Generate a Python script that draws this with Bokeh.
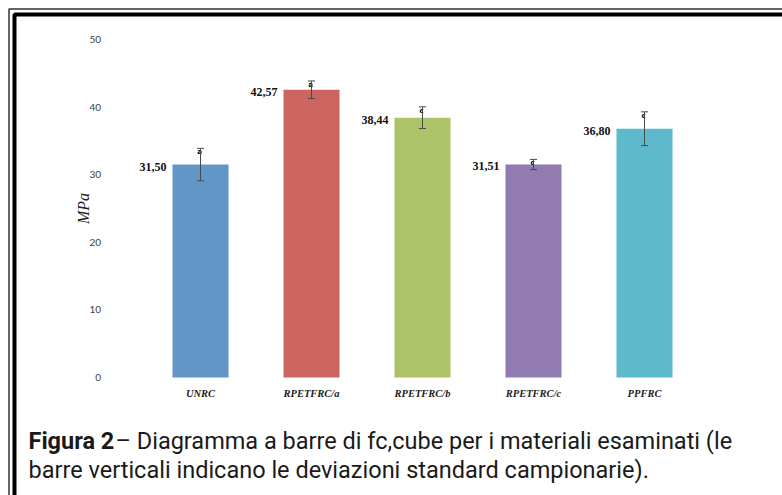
import math

from bokeh.plotting import figure
from bokeh.models import (ColumnDataSource, Range1d, Whisker, TeeHead,
                          BoxAnnotation, Label, FixedTicker)
from bokeh.core.properties import value
from bokeh.embed import file_html
from bokeh.resources import INLINE

# Compressive strength fc,cube per material (MPa) with sample standard deviations
materials = ["UNRC", "RPETFRC/a", "RPETFRC/b", "RPETFRC/c", "PPFRC"]
fc_cube = [31.50, 42.57, 38.44, 31.51, 36.80]
std_dev = [2.4, 1.3, 1.6, 0.75, 2.5]
group_letters = ["a", "a", "c", "c", "c"]
y_ticks = [0, 10, 20, 30, 40, 50]
bar_colors = ["#6196C6", "#CC6560", "#ADC36A", "#927BB0", "#5EB9CD"]

caption_bold = "Figura 2"
caption_line1 = "\u2013 Diagramma a barre di fc,cube per i materiali esaminati (le"
caption_line2 = "barre verticali indicano le deviazioni standard campionarie)."

pos = list(range(len(materials)))
src = ColumnDataSource(dict(
    pos=pos,
    fc=fc_cube,
    upper=[v + s for v, s in zip(fc_cube, std_dev)],
    lower=[v - s for v, s in zip(fc_cube, std_dev)],
    label=[f"{v:.2f}".replace(".", ",") for v in fc_cube],
    letter=group_letters,
    color=bar_colors,
))

W, H = 782, 495
# the plot frame fills the whole page; the ranges place the chart inside it
p = figure(width=W, height=H,
           x_range=Range1d(-1.8018, 5.2432), y_range=Range1d(-17.456, 55.77),
           output_backend="svg", toolbar_location=None,
           min_border=0, min_border_left=0, min_border_right=0,
           min_border_top=0, min_border_bottom=0)
p.outline_line_color = None
p.xgrid.grid_line_color = None
p.ygrid.grid_line_color = None
p.background_fill_color = "white"
p.border_fill_color = "white"

p.vbar(x="pos", top="fc", width=0.505, color="color", line_color=None, source=src)

heads = dict(size=7, line_color="#4a4a4a", line_width=1)
p.add_layout(Whisker(source=src, base="pos", upper="upper", lower="lower",
                     line_color="#4a4a4a", line_width=1, level="overlay",
                     upper_head=TeeHead(**heads), lower_head=TeeHead(**heads)))

p.text(x="pos", y="fc", text="label", source=src, text_align="right",
       text_baseline="middle", x_offset=-34, y_offset=2,
       text_font=value("Liberation Serif"), text_font_style="bold",
       text_font_size="12px", text_color="#111111")

p.text(x="pos", y="upper", text="letter", source=src, text_align="center",
       text_baseline="top", x_offset=-1, y_offset=0,
       text_font=value("DejaVu Sans"), text_font_style="bold",
       text_font_size="7px", text_color="#000000")

# value axis, drawn at the left edge of the bar area
ya = p.yaxis[0]
ya.fixed_location = -0.5
ya.ticker = FixedTicker(ticks=y_ticks)
ya.axis_line_color = None
ya.major_tick_line_color = None
ya.minor_tick_line_color = None
ya.major_label_standoff = 38
ya.major_label_text_font = "Lato"
ya.major_label_text_font_size = "10px"
ya.major_label_text_color = "#404040"

# category axis along the zero line
xa = p.xaxis[0]
xa.fixed_location = 0
xa.ticker = FixedTicker(ticks=pos)
xa.major_label_overrides = {i: m for i, m in zip(pos, materials)}
xa.axis_line_color = None
xa.major_tick_line_color = None
xa.minor_tick_line_color = None
xa.major_label_standoff = 5
xa.major_label_text_font = "Liberation Serif"
xa.major_label_text_font_style = "bold italic"
xa.major_label_text_font_size = "10.5px"
xa.major_label_text_color = "#222222"


def sx(x):
    return x


def sy(y):
    return H - y


# unit label of the value axis, centred on the 0-50 span
p.add_layout(Label(x=sx(83), y=sy(208), x_units="screen", y_units="screen",
                   text="MPa", angle=math.pi / 2, text_align="center",
                   text_baseline="middle", text_font="Liberation Serif",
                   text_font_style="italic", text_font_size="16px",
                   text_color="#222222"))

# double page border, open towards the right and bottom
border = dict(left_units="screen", right_units="screen", top_units="screen",
              bottom_units="screen", fill_color=None, fill_alpha=0,
              line_alpha=1, level="overlay")
p.add_layout(BoxAnnotation(left=sx(8.5), right=sx(W + 50), top=sy(8.5), bottom=sy(H + 50),
                           line_color="#333333", line_width=1.5, **border))
p.add_layout(BoxAnnotation(left=sx(14), right=sx(W + 50), top=sy(14), bottom=sy(H + 50),
                           line_color="black", line_width=4, **border))

cap_font = "Roboto"
cap_size = "23.5px"
cap_color = "#1a1a1a"
p.add_layout(Label(x=sx(28), y=sy(440), x_units="screen", y_units="screen",
                   text=caption_bold, text_font=cap_font, text_font_style="bold",
                   text_font_size=cap_size, text_baseline="middle", text_color=cap_color))
p.add_layout(Label(x=sx(115), y=sy(440), x_units="screen", y_units="screen",
                   text=caption_line1, text_font=cap_font,
                   text_font_size=cap_size, text_baseline="middle", text_color=cap_color))
p.add_layout(Label(x=sx(28), y=sy(469), x_units="screen", y_units="screen",
                   text=caption_line2, text_font=cap_font,
                   text_font_size=cap_size, text_baseline="middle", text_color=cap_color))

open("out.html", "w").write(file_html(p, INLINE))
